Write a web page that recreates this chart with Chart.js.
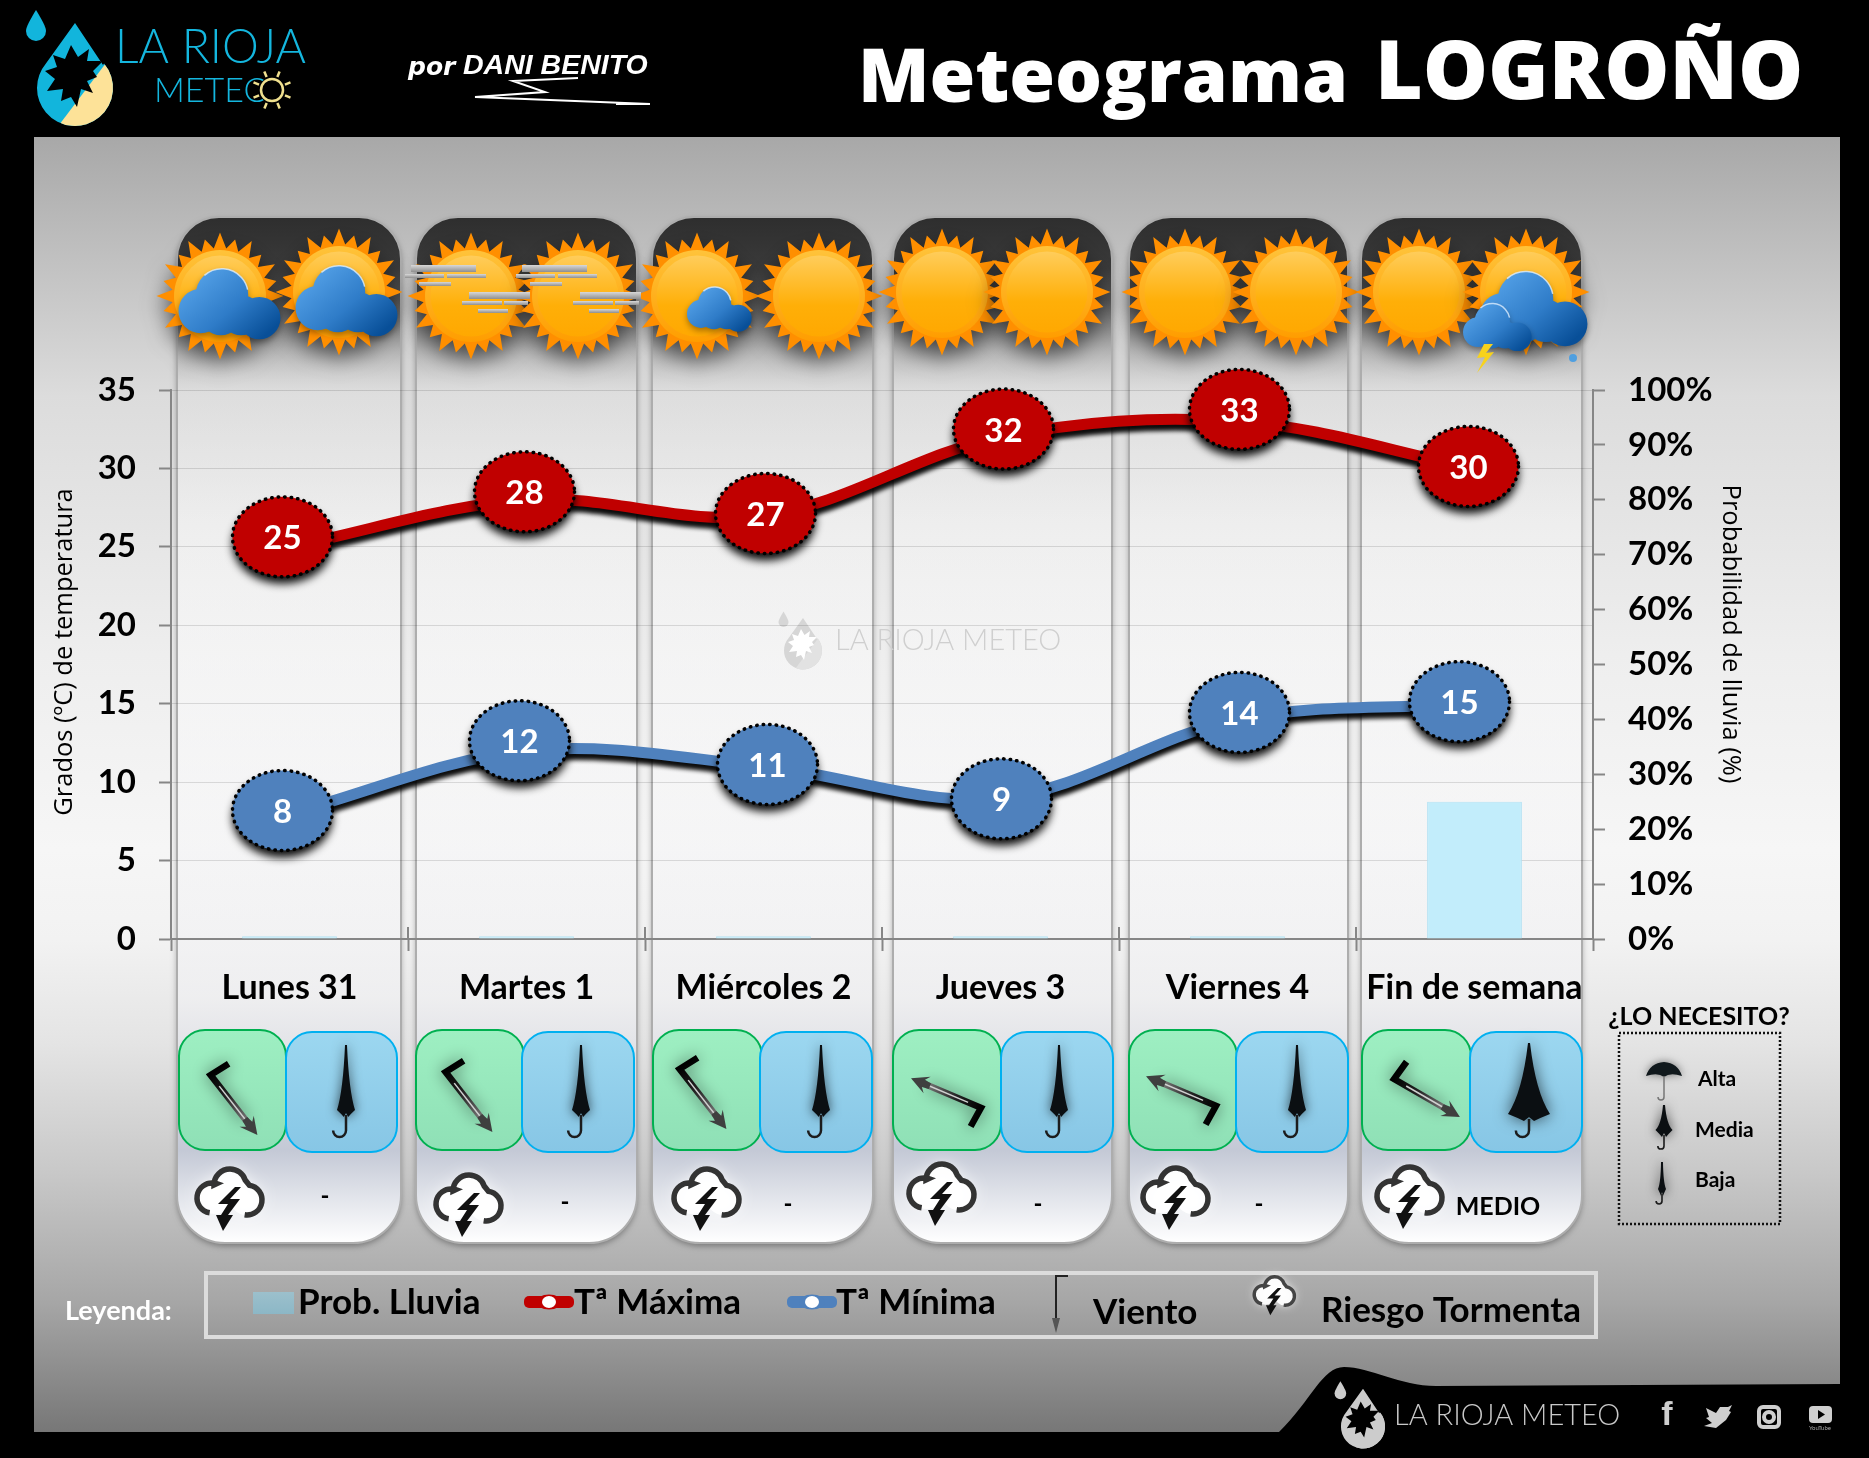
<!DOCTYPE html>
<html>
<head>
<meta charset="utf-8">
<title>Meteograma Logroño</title>
<script src="https://cdn.jsdelivr.net/npm/chart.js@4"></script>
<style>
    html, body { margin: 0; padding: 0; background: #000; }
    canvas { display: block; }
</style>
</head>
<body>
<canvas id="meteogram" width="1869" height="1458"></canvas>
<script>
// Chart values
const categories = ['Lunes 31', 'Martes 1', 'Miércoles 2', 'Jueves 3', 'Viernes 4', 'Fin de semana'];
const tempMax = [25, 28, 27, 32, 33, 30];
const tempMin = [8, 12, 11, 9, 14, 15];
const rainProb = [0.5, 0.5, 0.5, 0.5, 0.5, 25];
const tempTicks = [0, 5, 10, 15, 20, 25, 30, 35];
const rainTicks = [0, 10, 20, 30, 40, 50, 60, 70, 80, 90, 100];
const windAngle = [52, 52, 52, 203, 203, 30];
const umbrellaLevel = ['Baja', 'Baja', 'Baja', 'Baja', 'Baja', 'Media'];
const stormRisk = ['-', '-', '-', '-', '-', 'MEDIO'];

// The value bubbles sit a little off their points in the original
const maxNudge = [[-7, -10], [-2, -8], [2, -2], [3, -8], [2, -12], [-6, -2]];
const minNudge = [[-7, -3], [-7, -10], [4, -2], [1, 1], [2, -7], [-15, -2]];

const BODY_FONT = 'Lato, "Open Sans", sans-serif';
const TITLE_FONT = '"Open Sans", sans-serif';

// Column layout of the day panels, left and right edges
const panels = [[177, 401], [416, 637], [652, 873], [893, 1112], [1129, 1348], [1361, 1582]];
const windBoxes = [[179, 286], [416, 524], [653, 762], [893, 1001], [1129, 1237], [1362, 1471]];
const rainBoxes = [[286, 397], [522, 634], [760, 872], [1001, 1113], [1236, 1348], [1470, 1582]];
const windPos = [[234, 1105], [469, 1102], [703, 1099], [946, 1093], [1181, 1091], [1427, 1098]];
const stormIcons = [[229, 1200], [468, 1206], [706, 1200], [941, 1195], [1175, 1199], [1409, 1198]];
const riskLabels = [[325, 1196], [565, 1202], [788, 1204], [1038, 1204], [1259, 1204], [1498, 1207]];
const umbrellaX = [346, 581, 821, 1059, 1297, 1529];

function text(ctx, str, x, y, font, color, align) {
    ctx.font = font;
    ctx.fillStyle = color;
    ctx.textAlign = align || 'left';
    ctx.textBaseline = 'middle';
    ctx.fillText(str, x, y);
}

function roundRect(ctx, x, y, w, h, tl, bl) {
    ctx.beginPath();
    ctx.roundRect(x, y, w, h, [tl, tl, bl === undefined ? tl : bl, bl === undefined ? tl : bl]);
}

function drawBackground(ctx) {
    ctx.fillStyle = '#000';
    ctx.fillRect(0, 0, 1869, 1458);
    const g = ctx.createLinearGradient(0, 137, 0, 1432);
    g.addColorStop(0, '#a8a8a8');
    g.addColorStop(0.2, '#dcdcdc');
    g.addColorStop(0.4, '#eeeeee');
    g.addColorStop(0.55, '#f6f6f6');
    g.addColorStop(0.62, '#f2f2f2');
    g.addColorStop(0.7, '#e4e4e4');
    g.addColorStop(0.8, '#c8c8c8');
    g.addColorStop(0.9, '#a6a6a6');
    g.addColorStop(1, '#777');
    ctx.fillStyle = g;
    ctx.fillRect(34, 137, 1806, 1295);
}

function drawPanels(ctx) {
    panels.forEach(([l, r]) => {
        const g = ctx.createLinearGradient(0, 217, 0, 1243);
        g.addColorStop(0, '#2e2e2e');
        g.addColorStop(0.05, '#3a3a3a');
        g.addColorStop(0.08, 'rgba(80,80,80,0.95)');
        g.addColorStop(0.11, 'rgba(130,130,130,0.85)');
        g.addColorStop(0.17, 'rgba(225,225,225,0.3)');
        g.addColorStop(0.3, 'rgba(255,255,255,0.35)');
        g.addColorStop(0.76, 'rgba(240,240,242,0.7)');
        g.addColorStop(0.91, '#c4c9d6');
        g.addColorStop(1, '#ffffff');
        // shadow outside the panel only, the fill is see-through
        ctx.save();
        ctx.beginPath();
        ctx.rect(0, 0, 1869, 1458);
        ctx.roundRect(l, 217, r - l, 1026, [42, 42, 48, 48]);
        ctx.clip('evenodd');
        ctx.shadowColor = 'rgba(0,0,0,0.35)';
        ctx.shadowBlur = 6;
        ctx.shadowOffsetY = 3;
        roundRect(ctx, l, 217, r - l, 1026, 42, 48);
        ctx.fillStyle = '#000';
        ctx.fill();
        ctx.restore();
        roundRect(ctx, l, 217, r - l, 1026, 42, 48);
        ctx.fillStyle = g;
        ctx.fill();
        ctx.strokeStyle = '#adadad';
        ctx.lineWidth = 2;
        ctx.stroke();
    });
}

function drawSun(ctx, cx, cy, r) {
    ctx.save();
    ctx.shadowColor = 'rgba(0,0,0,0.55)';
    ctx.shadowBlur = 20;
    ctx.shadowOffsetY = 10;
    ctx.beginPath();
    const spikes = 24;
    for (let i = 0; i < spikes * 2; i++) {
        const a = i * Math.PI / spikes;
        const len = i % 2 ? r * 1.04 : r * (i % 4 ? 1.27 : 1.38);
        ctx.lineTo(cx + Math.cos(a) * len, cy + Math.sin(a) * len);
    }
    ctx.closePath();
    ctx.fillStyle = '#ff8f00';
    ctx.fill();
    ctx.restore();
    const ring = ctx.createLinearGradient(0, cy - r, 0, cy + r);
    ring.addColorStop(0, '#ffc33a');
    ring.addColorStop(1, '#ff9d00');
    ctx.fillStyle = ring;
    ctx.beginPath();
    ctx.arc(cx, cy, r, 0, Math.PI * 2);
    ctx.fill();
    const core = ctx.createLinearGradient(0, cy - r, 0, cy + r);
    core.addColorStop(0, '#ffd064');
    core.addColorStop(0.6, '#ffaf08');
    core.addColorStop(1, '#ffa700');
    ctx.fillStyle = core;
    ctx.beginPath();
    ctx.arc(cx, cy, r * 0.88, 0, Math.PI * 2);
    ctx.fill();
}

function drawCloud(ctx, cx, cy, w) {
    const s = w / 103;
    const blobs = [[-7, -10, 26], [-28, 6, 22], [-8, 10, 20], [12, 10, 20], [30, 13, 21]];
    ctx.save();
    ctx.shadowColor = 'rgba(0,0,0,0.35)';
    ctx.shadowBlur = 6;
    ctx.shadowOffsetY = 3;
    const g = ctx.createLinearGradient(cx - 30 * s, cy - 35 * s, cx + 30 * s, cy + 35 * s);
    g.addColorStop(0, '#55a2e8');
    g.addColorStop(0.55, '#2f7cc8');
    g.addColorStop(1, '#084f98');
    ctx.fillStyle = g;
    ctx.beginPath();
    blobs.forEach(([x, y, r]) => {
        ctx.moveTo(cx + (x + r) * s, cy + y * s);
        ctx.arc(cx + x * s, cy + y * s, r * s, 0, Math.PI * 2);
    });
    ctx.fill();
    ctx.restore();
    ctx.strokeStyle = 'rgba(220,238,255,0.8)';
    ctx.lineWidth = 1.5;
    ctx.beginPath();
    ctx.arc(cx - 7 * s, cy - 10 * s, 26 * s, -2.3, -0.2);
    ctx.stroke();
}

function drawFog(ctx, cx, cy) {
    const bars = [[-60, -30, 65, 7], [-66, -21, 39, 4], [-24, -21, 39, 4], [-52, -13, 32, 4],
                  [-2, -3, 61, 7], [-9, 6, 40, 4], [33, 6, 24, 4], [7, 14, 30, 4]];
    bars.forEach(([x, y, w, h]) => {
        const g = ctx.createLinearGradient(0, cy + y, 0, cy + y + h);
        g.addColorStop(0, '#d8d8d8');
        g.addColorStop(1, '#8f8f8f');
        ctx.fillStyle = g;
        ctx.fillRect(cx + x, cy + y, w, h);
    });
}

function drawSkyIcons(ctx) {
    const suns = [[220, 296], [339, 292], [471, 296], [578, 296], [697, 296], [819, 296],
                  [942, 292], [1047, 292], [1185, 292], [1296, 292], [1419, 292], [1526, 292]];
    suns.forEach(([x, y]) => drawSun(ctx, x, y, 46));
    drawCloud(ctx, 229, 305, 104);
    drawCloud(ctx, 346, 302, 104);
    drawFog(ctx, 471, 295);
    drawFog(ctx, 582, 295);
    drawCloud(ctx, 719, 310, 66);
    drawCloud(ctx, 1533, 310, 110);
    drawCloud(ctx, 1497, 328, 70);
    ctx.fillStyle = '#f7d21c';
    ctx.beginPath();
    [[1484, 344], [1477, 358], [1485, 357], [1477, 373], [1494, 352], [1486, 353], [1493, 344]]
        .forEach(([x, y]) => ctx.lineTo(x, y));
    ctx.fill();
    ctx.fillStyle = '#4f9fe0';
    ctx.beginPath();
    ctx.arc(1573, 358, 4, 0, Math.PI * 2);
    ctx.fill();
}

function boxFill(ctx, top, bottom, light, dark) {
    const g = ctx.createLinearGradient(0, top, 0, bottom);
    g.addColorStop(0, light);
    g.addColorStop(1, dark);
    return g;
}

function drawWindArrow(ctx, cx, cy, angleDeg, len) {
    const a = angleDeg * Math.PI / 180;
    const dx = Math.cos(a), dy = Math.sin(a);
    const ex = cx - dx * len / 2, ey = cy - dy * len / 2;
    const tx = cx + dx * len / 2, ty = cy + dy * len / 2;
    const ba = a - 84 * Math.PI / 180;
    const nx = -dy, ny = dx;
    const bx = cx + dx * len * 0.27, by = cy + dy * len * 0.27;
    ctx.save();
    ctx.shadowColor = 'rgba(0,0,0,0.5)';
    ctx.shadowBlur = 16;
    ctx.lineJoin = 'miter';
    const shaft = ctx.createLinearGradient(ex, ey, bx, by);
    shaft.addColorStop(0, '#000');
    shaft.addColorStop(0.45, '#222');
    shaft.addColorStop(1, '#777');
    ctx.strokeStyle = shaft;
    ctx.lineWidth = 6.5;
    ctx.beginPath();
    ctx.moveTo(ex + Math.cos(ba) * len * 0.28, ey + Math.sin(ba) * len * 0.28);
    ctx.lineTo(ex, ey);
    ctx.lineTo(bx, by);
    ctx.stroke();
    ctx.restore();
    ctx.strokeStyle = '#d0d0d0';
    ctx.lineWidth = 1.5;
    ctx.beginPath();
    ctx.moveTo(ex + dx * 14, ey + dy * 14);
    ctx.lineTo(bx, by);
    ctx.stroke();
    ctx.fillStyle = '#3f3f3f';
    ctx.beginPath();
    ctx.moveTo(tx, ty);
    ctx.lineTo(bx + nx * 9, by + ny * 9);
    ctx.lineTo(bx + dx * 4 + nx * 4, by + dy * 4 + ny * 4);
    ctx.lineTo(bx - dx * 3 + nx * 3, by - dy * 3 + ny * 3);
    ctx.lineTo(bx - dx * 3 - nx * 3, by - dy * 3 - ny * 3);
    ctx.lineTo(bx + dx * 4 - nx * 4, by + dy * 4 - ny * 4);
    ctx.lineTo(bx - nx * 9, by - ny * 9);
    ctx.closePath();
    ctx.fill();
}

function drawUmbrella(ctx, cx, top, w, canopyH, total) {
    ctx.save();
    ctx.shadowColor = 'rgba(0,0,0,0.65)';
    ctx.shadowBlur = w > 30 ? 16 : 12;
    ctx.fillStyle = '#0b0f12';
    const bottom = top + canopyH;
    ctx.beginPath();
    ctx.moveTo(cx - 1, top);
    ctx.lineTo(cx + 1, top);
    ctx.quadraticCurveTo(cx + w * 0.16, top + canopyH * 0.65, cx + w / 2, bottom - 5);
    ctx.lineTo(cx + w * 0.27, bottom - 1);
    ctx.lineTo(cx + w * 0.12, bottom + 2);
    ctx.lineTo(cx, bottom - 2);
    ctx.lineTo(cx - w * 0.12, bottom + 2);
    ctx.lineTo(cx - w * 0.27, bottom - 1);
    ctx.lineTo(cx - w / 2, bottom - 5);
    ctx.quadraticCurveTo(cx - w * 0.16, top + canopyH * 0.65, cx - 1, top);
    ctx.closePath();
    ctx.fill();
    ctx.restore();
    const hookR = Math.max(2.5, total * 0.07);
    ctx.strokeStyle = '#1c1c1c';
    ctx.lineWidth = total > 60 ? 2.5 : 1.6;
    ctx.beginPath();
    ctx.moveTo(cx, bottom);
    ctx.lineTo(cx, top + total - hookR);
    ctx.arc(cx - hookR, top + total - hookR, hookR, 0, Math.PI);
    ctx.stroke();
}

function drawOpenUmbrella(ctx, cx, cy) {
    ctx.save();
    ctx.shadowColor = 'rgba(0,0,0,0.5)';
    ctx.shadowBlur = 8;
    ctx.fillStyle = '#10181c';
    ctx.beginPath();
    ctx.moveTo(cx - 18, cy);
    ctx.quadraticCurveTo(cx - 14, cy - 13, cx, cy - 14);
    ctx.quadraticCurveTo(cx + 14, cy - 13, cx + 18, cy);
    ctx.quadraticCurveTo(cx + 6, cy - 4, cx, cy + 1);
    ctx.quadraticCurveTo(cx - 6, cy - 4, cx - 18, cy);
    ctx.fill();
    ctx.restore();
    ctx.strokeStyle = '#777';
    ctx.lineWidth = 1.5;
    ctx.beginPath();
    ctx.moveTo(cx, cy);
    ctx.lineTo(cx, cy + 21);
    ctx.arc(cx - 3, cy + 21, 3, 0, Math.PI);
    ctx.stroke();
}

function drawStorm(ctx, cx, cy, s, ink) {
    ctx.save();
    ctx.shadowColor = 'rgba(255,255,255,0.95)';
    ctx.shadowBlur = 16 * s;
    ctx.fillStyle = 'rgba(255,255,255,0.9)';
    ctx.beginPath();
    ctx.arc(cx - 14 * s, cy - 3 * s, 17 * s, 0, Math.PI * 2);
    ctx.arc(cx + 2 * s, cy - 14 * s, 17 * s, 0, Math.PI * 2);
    ctx.arc(cx + 17 * s, cy - 1 * s, 16 * s, 0, Math.PI * 2);
    ctx.fill();
    ctx.restore();
    ctx.strokeStyle = ink;
    ctx.lineWidth = 5.5 * s;
    ctx.beginPath();
    ctx.arc(cx - 17 * s, cy - 2 * s, 15 * s, Math.PI * 0.55, Math.PI * 1.6);
    ctx.arc(cx + 1 * s, cy - 15 * s, 16 * s, Math.PI * 1.0, Math.PI * 1.9);
    ctx.arc(cx + 18 * s, cy, 15 * s, Math.PI * 1.55, Math.PI * 0.55);
    ctx.stroke();
    ctx.fillStyle = '#111';
    ctx.beginPath();
    [[6, -13], [-11, 4], [-1, 4], [-8, 15], [-13, 15], [-6, 31], [4, 15], [-1, 15], [11, -1], [1, -1], [12, -13]]
        .forEach(([x, y]) => ctx.lineTo(cx + x * s, cy + y * s));
    ctx.closePath();
    ctx.fill();
}

function drawForecastRows(ctx) {
    windBoxes.forEach(([l, r], i) => {
        roundRect(ctx, l, 1030, r - l, 120, 26);
        ctx.fillStyle = boxFill(ctx, 1030, 1150, '#9eefc2', '#8fe0b6');
        ctx.fill();
        ctx.strokeStyle = '#00b050';
        ctx.lineWidth = 2;
        ctx.stroke();
        const [rl, rr] = rainBoxes[i];
        roundRect(ctx, rl, 1032, rr - rl, 120, 26);
        ctx.fillStyle = boxFill(ctx, 1032, 1152, '#9cd7f0', '#87c6e5');
        ctx.fill();
        ctx.strokeStyle = '#00b0f0';
        ctx.stroke();
        drawWindArrow(ctx, windPos[i][0], windPos[i][1], windAngle[i], 76);
        if (umbrellaLevel[i] === 'Media') {
            drawUmbrella(ctx, umbrellaX[i], 1043, 42, 76, 94);
        } else {
            drawUmbrella(ctx, umbrellaX[i], 1045, 18, 70, 92);
        }
        drawStorm(ctx, stormIcons[i][0], stormIcons[i][1], 1, '#333');
        const big = stormRisk[i] !== '-';
        text(ctx, stormRisk[i], riskLabels[i][0], riskLabels[i][1], 'bold ' + (big ? 25 : 24) + 'px ' + BODY_FONT, '#000', 'center');
    });
}

function drawNeedKey(ctx) {
    text(ctx, '¿LO NECESITO?', 1699, 1017, 'bold 25px ' + BODY_FONT, '#000', 'center');
    ctx.strokeStyle = '#111';
    ctx.lineWidth = 2.5;
    ctx.setLineDash([2, 2]);
    ctx.strokeRect(1619, 1033, 161, 191);
    ctx.setLineDash([]);
    drawOpenUmbrella(ctx, 1664, 1076);
    drawUmbrella(ctx, 1664, 1105, 17, 30, 44);
    drawUmbrella(ctx, 1662, 1162, 8, 32, 42);
    text(ctx, 'Alta', 1698, 1079, 'bold 21px ' + BODY_FONT, '#000');
    text(ctx, 'Media', 1695, 1130, 'bold 21px ' + BODY_FONT, '#000');
    text(ctx, 'Baja', 1695, 1180, 'bold 21px ' + BODY_FONT, '#000');
}

function drawLegend(ctx) {
    text(ctx, 'Leyenda:', 65, 1311, 'bold 27px ' + BODY_FONT, '#fff');
    ctx.strokeStyle = '#dcdcdc';
    ctx.lineWidth = 4;
    ctx.strokeRect(206, 1273, 1390, 64);
    ctx.fillStyle = boxFill(ctx, 1292, 1314, '#9cc0cc', '#8cb7c6');
    ctx.fillRect(253, 1292, 41, 22);
    const font = 'bold 35px ' + BODY_FONT;
    text(ctx, 'Prob. Lluvia', 298, 1303, font, '#000');
    text(ctx, 'Tª Máxima', 574, 1303, font, '#000');
    text(ctx, 'Tª Mínima', 836, 1303, font, '#000');
    text(ctx, 'Viento', 1093, 1313, font, '#000');
    text(ctx, 'Riesgo Tormenta', 1321, 1311, font, '#000');
    [[524, '#c00000'], [787, '#4f81bd']].forEach(([x, color]) => {
        roundRect(ctx, x, 1296, 50, 12, 5);
        ctx.fillStyle = color;
        ctx.fill();
        ctx.beginPath();
        ctx.ellipse(x + 25, 1302, 13, 7.5, 0, 0, Math.PI * 2);
        ctx.fill();
        ctx.fillStyle = '#fff';
        ctx.beginPath();
        ctx.ellipse(x + 25, 1302, 7, 6, 0, 0, Math.PI * 2);
        ctx.fill();
    });
    ctx.strokeStyle = '#222';
    ctx.lineWidth = 2;
    ctx.beginPath();
    ctx.moveTo(1068, 1276);
    ctx.lineTo(1056, 1276);
    ctx.lineTo(1056, 1320);
    ctx.stroke();
    ctx.fillStyle = '#555';
    ctx.beginPath();
    ctx.moveTo(1052, 1318);
    ctx.lineTo(1060, 1318);
    ctx.lineTo(1056, 1333);
    ctx.fill();
    drawStorm(ctx, 1274, 1296, 0.62, '#444');
}

function drawLogoMark(ctx, cx, cy, s, body, accent, leaf) {
    ctx.save();
    ctx.translate(cx, cy);
    ctx.scale(s, s);
    ctx.fillStyle = body;
    ctx.beginPath();
    ctx.moveTo(-39, -53);
    ctx.bezierCurveTo(-45, -43, -49, -36, -49, -32);
    ctx.arc(-39, -32, 10, Math.PI, 0, true);
    ctx.bezierCurveTo(-29, -36, -33, -43, -39, -53);
    ctx.fill();
    ctx.beginPath();
    ctx.moveTo(0, -40);
    ctx.lineTo(28, 2);
    ctx.arc(0, 25, 38, -0.7, Math.PI + 0.7);
    ctx.closePath();
    ctx.save();
    ctx.fill();
    ctx.clip();
    ctx.fillStyle = accent;
    ctx.beginPath();
    ctx.moveTo(40, -12);
    ctx.lineTo(-22, 70);
    ctx.lineTo(50, 70);
    ctx.closePath();
    ctx.fill();
    // vine leaf cut-out
    const leafShape = [[-4, -22], [3, -10], [14, -18], [12, -6], [28, -6], [18, 4], [22, 10], [12, 14], [18, 26],
                       [6, 22], [2, 40], [-4, 30], [-14, 34], [-12, 22], [-28, 24], [-20, 12], [-30, 4], [-18, 0], [-22, -12], [-10, -8]];
    ctx.fillStyle = leaf;
    ctx.beginPath();
    leafShape.forEach(([x, y]) => ctx.lineTo(x, y + 4));
    ctx.closePath();
    ctx.fill();
    ctx.restore();
    ctx.restore();
}

function drawHeader(ctx) {
    drawLogoMark(ctx, 75, 63, 1, '#12b5dc', '#fde298', '#000');
    text(ctx, 'LA RIOJA', 115, 48, '300 46.5px ' + BODY_FONT, '#14b6de');
    text(ctx, 'METEO', 154, 91, '300 34px ' + BODY_FONT, '#14b6de');
    // small sun used as the O of METEO
    ctx.fillStyle = '#000';
    ctx.beginPath();
    ctx.arc(272, 90, 13, 0, Math.PI * 2);
    ctx.fill();
    ctx.strokeStyle = '#f0e08e';
    ctx.lineWidth = 2.5;
    ctx.beginPath();
    ctx.arc(272, 90, 11, 0, Math.PI * 2);
    ctx.stroke();
    for (let i = 0; i < 8; i++) {
        const a = i * Math.PI / 4 + 0.39;
        ctx.beginPath();
        ctx.moveTo(272 + Math.cos(a) * 14, 90 + Math.sin(a) * 14);
        ctx.lineTo(272 + Math.cos(a) * 20, 90 + Math.sin(a) * 20);
        ctx.stroke();
    }
    text(ctx, 'por', 408, 68, 'italic bold 25px "DejaVu Sans", sans-serif', '#fff');
    text(ctx, 'DANI BENITO', 463, 66, 'italic bold 28.5px "Liberation Sans", sans-serif', '#fff');
    ctx.strokeStyle = '#fff';
    ctx.lineWidth = 2;
    ctx.beginPath();
    ctx.moveTo(578, 78);
    ctx.lineTo(513, 81);
    ctx.lineTo(545, 92);
    ctx.lineTo(475, 97);
    ctx.lineTo(650, 104);
    ctx.lineTo(616, 104);
    ctx.stroke();
    text(ctx, 'Meteograma', 858, 81, '800 74px ' + TITLE_FONT, '#fff');
    text(ctx, 'LOGROÑO', 1375, 76, '800 82px ' + TITLE_FONT, '#fff');
}

function drawFooter(ctx) {
    ctx.fillStyle = '#000';
    ctx.beginPath();
    ctx.moveTo(1279, 1432);
    ctx.bezierCurveTo(1312, 1400, 1322, 1367, 1344, 1367);
    ctx.bezierCurveTo(1370, 1367, 1400, 1386, 1436, 1386);
    ctx.lineTo(1840, 1384);
    ctx.lineTo(1840, 1432);
    ctx.closePath();
    ctx.fill();
    drawLogoMark(ctx, 1363, 1412, 0.58, '#ccc', '#ccc', '#000');
    text(ctx, 'LA RIOJA METEO', 1394, 1416, '300 29px ' + BODY_FONT, '#c8c8c8');
    text(ctx, 'f', 1667, 1416, 'bold 34px "Liberation Sans", sans-serif', '#cfcfcf', 'center');
    // twitter bird
    ctx.fillStyle = '#cfcfcf';
    ctx.beginPath();
    [[1706, 1408], [1716, 1413], [1720, 1407], [1728, 1407], [1732, 1405], [1729, 1411], [1731, 1412],
     [1726, 1420], [1716, 1428], [1704, 1426], [1712, 1423], [1706, 1418], [1709, 1417]]
        .forEach(([x, y]) => ctx.lineTo(x, y));
    ctx.fill();
    ctx.strokeStyle = '#cfcfcf';
    ctx.lineWidth = 4;
    roundRect(ctx, 1759, 1407, 20, 20, 4);
    ctx.stroke();
    ctx.beginPath();
    ctx.arc(1769, 1417, 5, 0, Math.PI * 2);
    ctx.stroke();
    ctx.fillStyle = '#cfcfcf';
    roundRect(ctx, 1809, 1406, 23, 17, 4);
    ctx.fill();
    text(ctx, 'YouTube', 1820, 1428, '6px ' + BODY_FONT, '#aaa', 'center');
    ctx.fillStyle = '#000';
    ctx.beginPath();
    ctx.moveTo(1818, 1410);
    ctx.lineTo(1825, 1414.5);
    ctx.lineTo(1818, 1419);
    ctx.fill();
}

function drawWatermark(ctx) {
    drawLogoMark(ctx, 803, 638, 0.5, '#d6d6d6', '#e2e2e2', '#fff');
    text(ctx, 'LA RIOJA METEO', 835, 641, '300 29px ' + BODY_FONT, '#cfcfcf');
}

function drawAxisTitles(ctx) {
    ctx.save();
    ctx.translate(65, 652);
    ctx.rotate(-Math.PI / 2);
    text(ctx, 'Grados (ºC) de temperatura', 0, 0, '25.5px ' + TITLE_FONT, '#000', 'center');
    ctx.restore();
    ctx.save();
    ctx.translate(1730, 634);
    ctx.rotate(Math.PI / 2);
    text(ctx, 'Probabilidad de lluvia (%)', 0, 0, '25.5px ' + TITLE_FONT, '#000', 'center');
    ctx.restore();
}

// Page furniture under the chart
const backdropPlugin = {
    id: 'backdrop',
    beforeDraw(chart) {
        const ctx = chart.ctx;
        drawBackground(ctx);
        drawPanels(ctx);
        drawWatermark(ctx);
    },
    beforeDatasetsDraw(chart) {
        // the category ticks cross the base line, the scale only draws the lower half
        const { ctx, chartArea: area } = chart;
        const step = (area.right - area.left) / categories.length;
        ctx.strokeStyle = '#868686';
        ctx.lineWidth = 2;
        for (let i = 0; i <= categories.length; i++) {
            ctx.beginPath();
            ctx.moveTo(area.left + step * i, area.bottom - 12);
            ctx.lineTo(area.left + step * i, area.bottom);
            ctx.stroke();
        }
    },
    afterDraw(chart) {
        const ctx = chart.ctx;
        drawHeader(ctx);
        drawSkyIcons(ctx);
        drawAxisTitles(ctx);
        drawForecastRows(ctx);
        drawNeedKey(ctx);
        drawLegend(ctx);
        drawFooter(ctx);
    }
};

// Black drop shadow under the temperature lines
const lineShadowPlugin = {
    id: 'lineShadow',
    beforeDatasetDraw(chart, args) {
        if (args.meta.type !== 'line') return;
        chart.ctx.save();
        chart.ctx.shadowColor = 'rgba(0,0,0,0.95)';
        chart.ctx.shadowBlur = 4;
        chart.ctx.shadowOffsetY = 6;
    },
    afterDatasetDraw(chart, args) {
        if (args.meta.type !== 'line') return;
        chart.ctx.restore();
    }
};

// Dotted value bubbles on the temperature points
const bubblePlugin = {
    id: 'bubbles',
    afterDatasetsDraw(chart) {
        const ctx = chart.ctx;
        [[0, tempMax, maxNudge, '#c00000'], [1, tempMin, minNudge, '#4f81bd']].forEach(([index, values, nudge, color]) => {
            chart.getDatasetMeta(index).data.forEach((point, i) => {
                const x = point.x + nudge[i][0];
                const y = point.y + nudge[i][1];
                ctx.save();
                ctx.shadowColor = 'rgba(0,0,0,0.95)';
                ctx.shadowBlur = 8;
                ctx.shadowOffsetY = 7;
                ctx.fillStyle = color;
                ctx.beginPath();
                ctx.ellipse(x, y, 50, 40, 0, 0, Math.PI * 2);
                ctx.fill();
                ctx.restore();
                ctx.strokeStyle = '#000';
                ctx.lineWidth = 3.5;
                ctx.lineCap = 'round';
                ctx.setLineDash([0.5, 6]);
                ctx.beginPath();
                ctx.ellipse(x, y, 50, 40, 0, 0, Math.PI * 2);
                ctx.stroke();
                ctx.setLineDash([]);
                ctx.lineCap = 'butt';
                text(ctx, String(values[i]), x, y + 2, 'bold 33px ' + BODY_FONT, '#fff', 'center');
            });
        });
    }
};

const axisGrey = '#868686';

new Chart(document.getElementById('meteogram'), {
    type: 'bar',
    data: {
        labels: categories,
        datasets: [
            {
                type: 'line',
                label: 'Tª Máxima',
                data: tempMax,
                yAxisID: 'y',
                borderColor: '#c00000',
                borderWidth: 11,
                tension: 0.35,
                pointRadius: 0,
                fill: false,
                order: 1
            },
            {
                type: 'line',
                label: 'Tª Mínima',
                data: tempMin,
                yAxisID: 'y',
                borderColor: '#4f81bd',
                borderWidth: 11,
                tension: 0.35,
                pointRadius: 0,
                fill: false,
                order: 1
            },
            {
                type: 'bar',
                label: 'Prob. Lluvia',
                data: rainProb,
                yAxisID: 'y1',
                backgroundColor: '#c2edfb',
                borderColor: '#b4e2f3',
                borderWidth: 1,
                barPercentage: 0.4,
                categoryPercentage: 1,
                order: 2
            }
        ]
    },
    options: {
        responsive: false,
        animation: false,
        layout: { padding: { top: 390 } },
        plugins: {
            legend: { display: false },
            tooltip: { enabled: false }
        },
        scales: {
            x: {
                afterFit(scale) { scale.height = 519; },
                border: { color: axisGrey, width: 2 },
                grid: { drawOnChartArea: false, tickLength: 12, tickColor: axisGrey, tickWidth: 2 },
                ticks: {
                    color: '#000',
                    padding: 17,
                    maxRotation: 0,
                    autoSkip: false,
                    font: { family: BODY_FONT, size: 34, weight: 'bold' }
                }
            },
            y: {
                position: 'left',
                min: 0,
                max: 35,
                afterFit(scale) { scale.width = 171; },
                afterBuildTicks(scale) { scale.ticks = tempTicks.map(value => ({ value })); },
                border: { color: axisGrey, width: 2 },
                grid: { color: 'rgba(0,0,0,0.12)', lineWidth: 1, tickColor: axisGrey, tickWidth: 2, tickLength: 12 },
                ticks: {
                    color: '#000',
                    padding: 23,
                    font: { family: BODY_FONT, size: 33, weight: 'bold' }
                }
            },
            y1: {
                position: 'right',
                min: 0,
                max: 100,
                afterFit(scale) { scale.width = 276; },
                afterBuildTicks(scale) { scale.ticks = rainTicks.map(value => ({ value })); },
                border: { color: axisGrey, width: 2 },
                grid: { drawOnChartArea: false, tickColor: axisGrey, tickWidth: 2, tickLength: 12 },
                ticks: {
                    color: '#000',
                    padding: 23,
                    callback: value => value + '%',
                    font: { family: BODY_FONT, size: 33, weight: 'bold' }
                }
            }
        }
    },
    plugins: [backdropPlugin, lineShadowPlugin, bubblePlugin]
});
</script>
</body>
</html>
